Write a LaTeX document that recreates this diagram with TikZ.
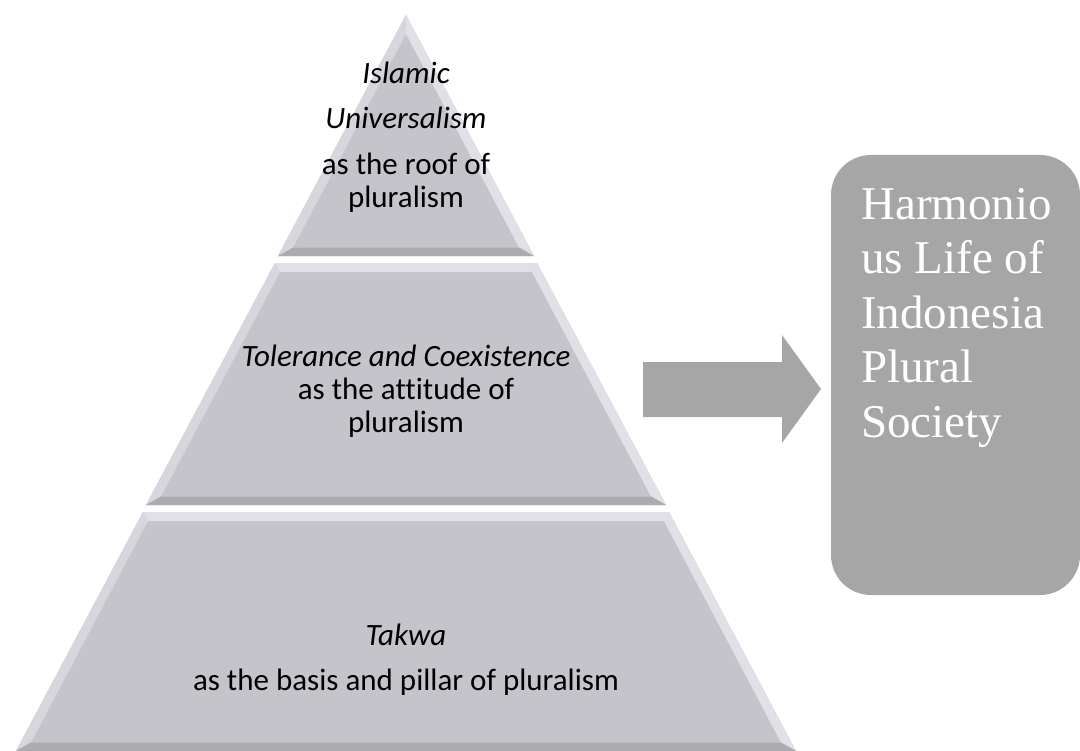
\documentclass[tikz,border=0pt]{standalone}
\usepackage{fontspec}
\setmainfont{Carlito}[Ligatures={NoCommon}]
\newfontfamily\tnr{Liberation Serif}
\definecolor{face}{RGB}{196,196,202}
\definecolor{bevlight}{RGB}{224,224,230}
\definecolor{bevside}{RGB}{214,214,220}
\definecolor{bevdark}{RGB}{172,172,176}
\definecolor{blockgray}{RGB}{166,166,166}
\newcommand{\layerbands}[8]{%
  \fill[face] (#1) -- (#2) -- (#3) -- (#4) -- cycle;
  \fill[bevlight] (#1) -- (#2) -- (#6) -- (#5) -- cycle;
  \fill[bevside] (#1) -- (#5) -- (#8) -- (#4) -- cycle;
  \fill[bevlight] (#2) -- (#3) -- (#7) -- (#6) -- cycle;
  \fill[bevdark] (#4) -- (#8) -- (#7) -- (#3) -- cycle;
}
\begin{document}
\begin{tikzpicture}[x=1bp,y=-1bp,
  pyrtext/.style={align=center, inner sep=0, text=black, font=\fontsize{31bp}{33bp}\selectfont},
  goalbox/.style={fill=blockgray, rounded corners=40bp, minimum width=249bp, minimum height=440bp, inner sep=0, draw=none},
  goaltext/.style={anchor=north west, align=left, inner sep=0, text=white, font=\tnr\fontsize{47bp}{54.5bp}\selectfont},
  blockarrow/.style={fill=blockgray}
]
\useasboundingbox (0,0) rectangle (1080,751);
\fill[white] (0,0) rectangle (1080,751);

% top layer (triangle)
\layerbands{406,15}{406,15}{534,256}{278,256}{406,34}{406,34}{519,247.5}{293,247.5}
% middle layer
\layerbands{275,263}{537,263}{666,505}{146,505}{280,272}{532,272}{651,496.5}{161,496.5}
% bottom layer
\layerbands{143,512}{669,512}{796,751}{16,751}{148,521}{664,521}{781,742.5}{31,742.5}

\node[pyrtext] (roof) at (406,137) {\textit{Islamic}\\[12bp]\textit{Universalism}\\[13bp]as the roof of\\pluralism};
\node[pyrtext] (attitude) at (406,391) {\textit{Tolerance and Coexistence}\\as the attitude of\\pluralism};
\node[pyrtext] (basis) at (406,659.5) {\textit{Takwa}\\[12bp]as the basis and pillar of pluralism};

% block arrow
\coordinate (arrtail) at (643,389);
\coordinate (arrtip) at (821,389);
\fill[blockarrow] (643,362) -- (782,362) -- (782,335) -- (arrtip) -- (782,443) -- (782,417) -- (643,417) -- cycle;

\node[goalbox] (goal) at (955.5,375) {};
\node[goaltext] (goaltxt) at (861,188) {Harmonio\\us Life of\\Indonesia\\Plural\\Society};
\end{tikzpicture}
\end{document}
